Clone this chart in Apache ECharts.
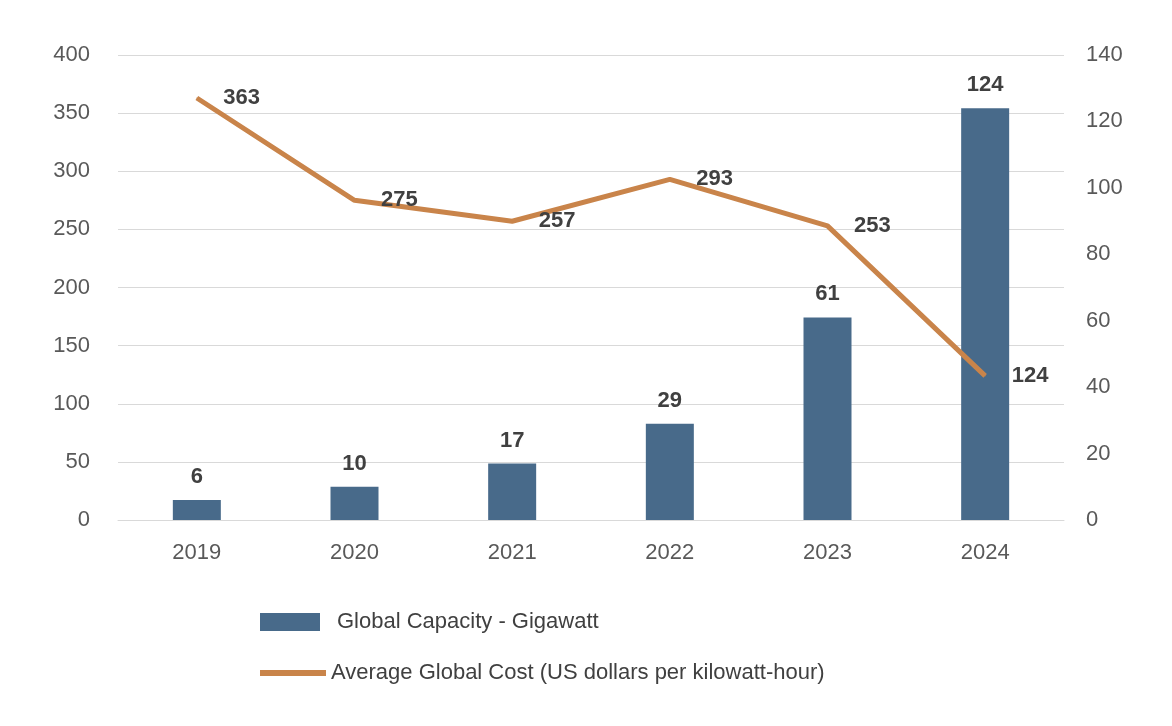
<!DOCTYPE html>
<html>
<head>
<meta charset="utf-8">
<script src="https://cdn.jsdelivr.net/npm/echarts@6/dist/echarts.min.js"></script>
<style>html,body{margin:0;background:#fff}#root{width:1172px;height:726px}</style>
</head>
<body>
<div id="root"></div>
<script>
const years = ['2019', '2020', '2021', '2022', '2023', '2024'];
const capacity = [6, 10, 17, 29, 61, 124];
const cost = [363, 275, 257, 293, 253, 124];
const capName = 'Global Capacity - Gigawatt';
const costName = 'Average Global Cost (US dollars per kilowatt-hour)';

const axisText = { color: '#595959', fontSize: 22, fontFamily: 'Liberation Sans' };
const labelText = { color: '#404040', fontSize: 22, fontWeight: 'bold', fontFamily: 'Liberation Sans' };

const chart = echarts.init(document.getElementById('root'));
chart.setOption({
  backgroundColor: '#ffffff',
  animation: false,
  grid: { left: 118, right: 108, top: 55, bottom: 206 },
  legend: [
    {
      data: [{ name: capName, icon: 'rect' }],
      left: 255, top: 606, itemWidth: 60, itemHeight: 18,
      textStyle: { color: '#404040', fontSize: 22, fontFamily: 'Liberation Sans', padding: [0, 0, 0, 12] }
    },
    {
      data: [{ name: costName, icon: 'rect' }],
      left: 255, top: 657, itemWidth: 66, itemHeight: 6,
      textStyle: { color: '#404040', fontSize: 22, fontFamily: 'Liberation Sans' }
    }
  ],
  xAxis: {
    type: 'category', data: years,
    axisLine: { lineStyle: { color: '#d9d9d9' } },
    axisTick: { show: false },
    axisLabel: Object.assign({ margin: 22 }, axisText)
  },
  yAxis: [
    {
      type: 'value', min: 0, max: 400, interval: 50,
      axisLabel: Object.assign({ margin: 28 }, axisText),
      splitLine: { lineStyle: { color: '#d9d9d9' } }
    },
    {
      type: 'value', min: 0, max: 140, interval: 20,
      axisLabel: Object.assign({ margin: 22 }, axisText),
      splitLine: { show: false }
    }
  ],
  series: [
    {
      name: capName, type: 'bar', yAxisIndex: 1, data: capacity, barWidth: 48,
      itemStyle: { color: '#486a8a' },
      label: Object.assign({ show: true, position: 'top', distance: 12 }, labelText)
    },
    {
      name: costName, type: 'line', yAxisIndex: 0, data: cost,
      symbol: 'circle', symbolSize: 1, showSymbol: true,
      lineStyle: { color: '#c9844a', width: 5 },
      itemStyle: { color: '#c9844a' },
      label: Object.assign({ show: true, position: 'right', distance: 26 }, labelText)
    }
  ]
});
</script>
</body>
</html>
